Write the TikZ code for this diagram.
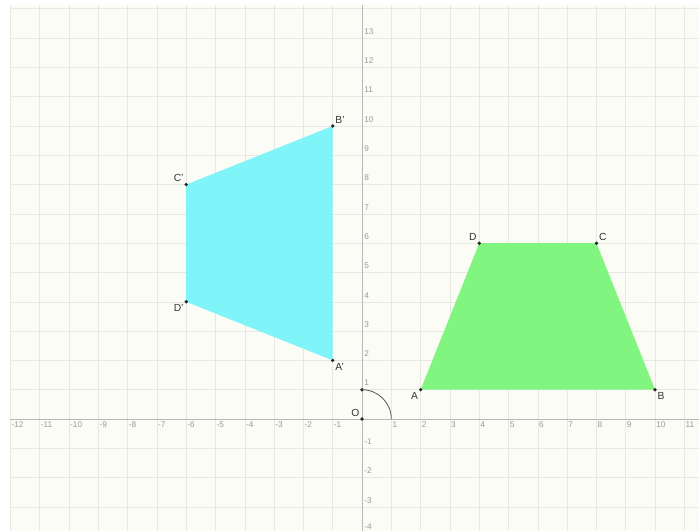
\documentclass[tikz,border=0pt]{standalone}
\usepackage{fontspec}
\setsansfont{Liberation Sans}
\definecolor{paper}{HTML}{FCFCF6}
\definecolor{gridgray}{HTML}{E7E7E3}
\definecolor{trapgreen}{HTML}{80F57F}
\definecolor{rotcyan}{HTML}{7FF5FA}
\begin{document}
\begin{tikzpicture}[
    vertex/.style={circle, fill=black!85, inner sep=0pt, minimum size=3.6pt},
    vlabel/.style={font=\sffamily, text=black!80, inner sep=1pt},
    ticklabel/.style={font=\sffamily\footnotesize, text=black!40, inner sep=1pt}]
    \useasboundingbox[fill=white] (-12.355,-3.82) rectangle (11.50,14.30);
    \fill[paper] (-12,-3.82) rectangle (11.50,14.13);
    \draw[gridgray, line width=0.6pt] (-12,-3.82) grid (11.50,14.13);
    \draw[black!28, line width=0.6pt] (-12,0) -- (11.50,0);
    \draw[black!28, line width=0.6pt] (0,-3.82) -- (0,14.13);
    % axis numbers
    \foreach \x in {-12,...,-1,1,2,...,11}
        \node[ticklabel, anchor=north west, yshift=-1.5pt] at (\x,0) {\x};
    \foreach \y in {-3,...,-1,1,2,...,13}
        \node[ticklabel, anchor=south west, xshift=1pt, yshift=2.5pt] at (0,\y) {\y};
    \node[ticklabel, anchor=south west, xshift=1pt] (ym4) at (0,-3.82) {-4};
    % trapezoid ABCD and its image under the quarter turn about O
    \coordinate (A) at (2,1);
    \coordinate (B) at (10,1);
    \coordinate (C) at (8,6);
    \coordinate (D) at (4,6);
    \coordinate (Ar) at (-1,2);
    \coordinate (Br) at (-1,10);
    \coordinate (Cr) at (-6,8);
    \coordinate (Dr) at (-6,4);
    \fill[trapgreen] (A) -- (B) -- (C) -- (D) -- cycle;
    \fill[rotcyan] (Ar) -- (Br) -- (Cr) -- (Dr) -- cycle;
    \foreach \p/\pos/\txt in {A/below left/A, B/below right/B, C/above right/C, D/above left/D,
        Ar/below right/A', Br/above right/B', Cr/above left/C', Dr/below left/D'}
        \node[vertex, label={[vlabel]\pos:\txt}] (v\p) at (\p) {};
    % centre of the turn and its angle
    \node[vertex, label={[vlabel]above left:O}] (O) at (0,0) {};
    \node[vertex] (Q) at (0,1) {};
    \draw[black!65, line width=0.8pt] (Q.center) arc[start angle=90, end angle=0, radius=1];
\end{tikzpicture}
\end{document}
